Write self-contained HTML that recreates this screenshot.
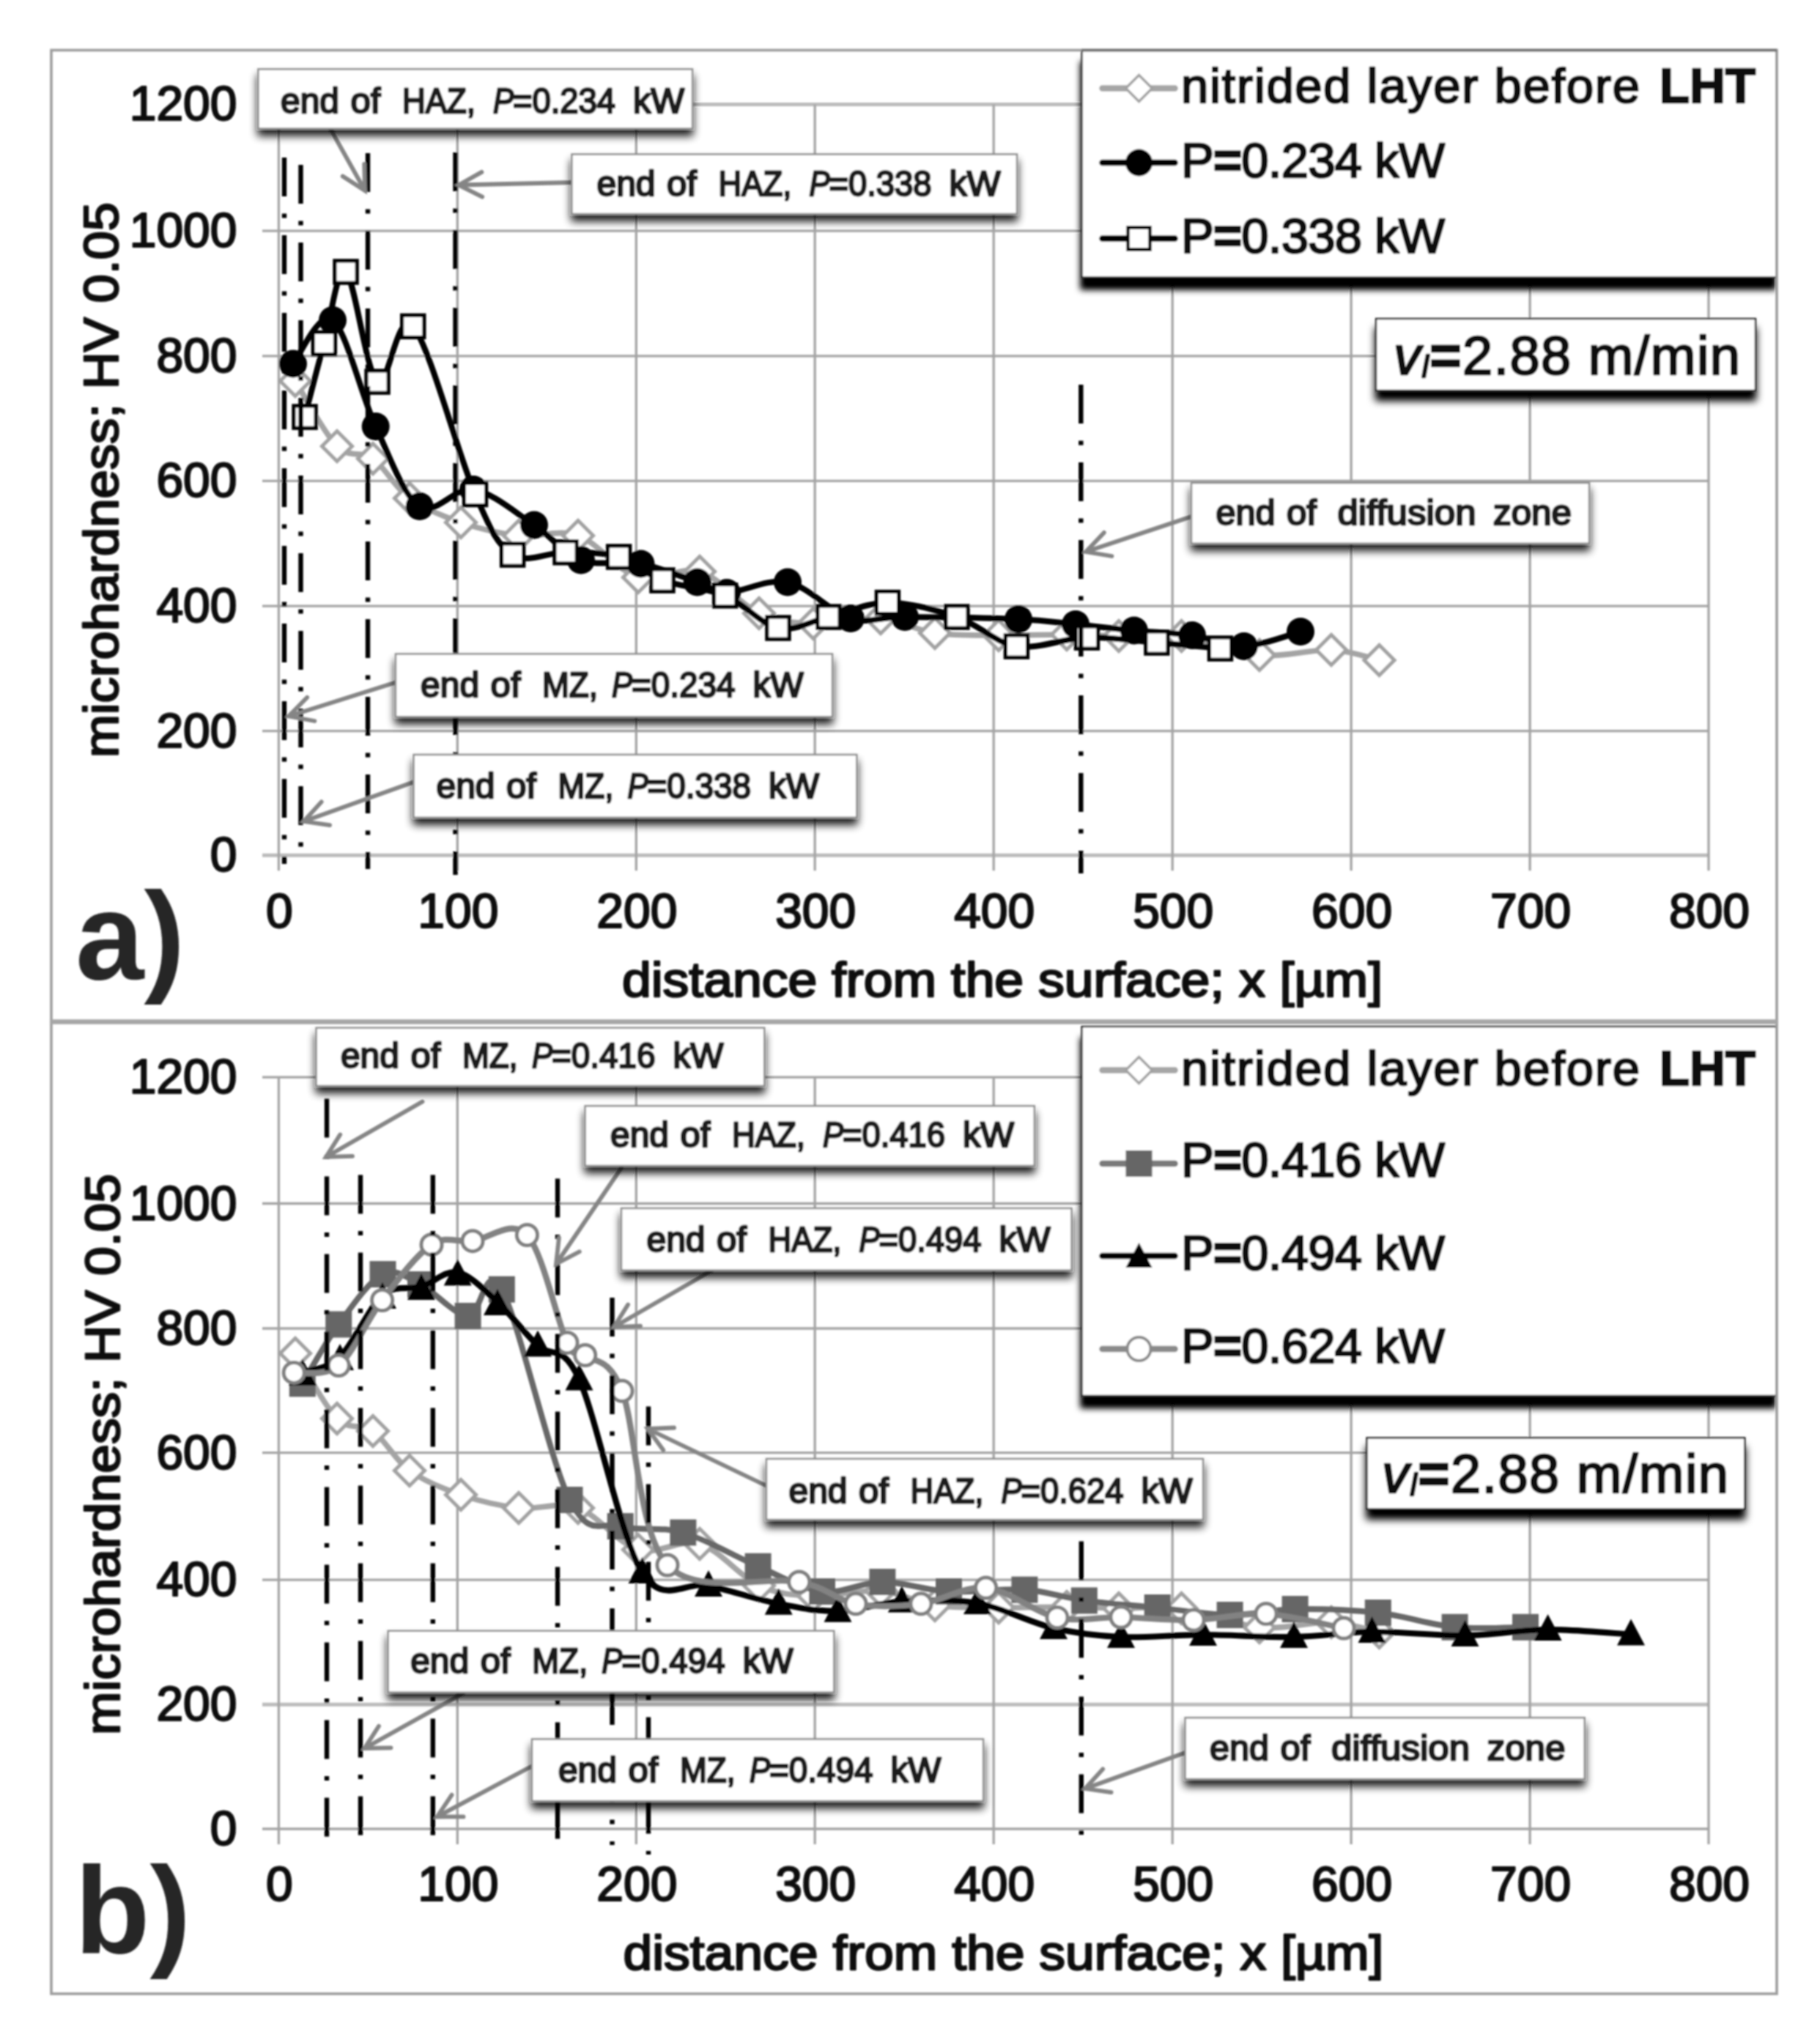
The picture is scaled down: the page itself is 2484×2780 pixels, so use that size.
<!DOCTYPE html>
<html lang="en"><head><meta charset="utf-8"><title>Microhardness profiles</title>
<style>
html,body{margin:0;padding:0;background:#fff;}
body{width:2484px;height:2780px;overflow:hidden;}
svg{display:block;}
text{font-family:"Liberation Sans", sans-serif;fill:#0a0a0a;stroke:#0a0a0a;stroke-width:2.2;stroke-linejoin:round;}
.tk{font-size:66px;}
.ax{font-size:66px;stroke-width:2.4;}
.lg{font-size:67px;stroke-width:2.7;}
.co{fill:#1c1c1c;stroke:#1c1c1c;stroke-width:3;}
.vl{font-size:74px;stroke-width:2.7;}
.pl{font-size:168px;font-weight:bold;fill:#262626;stroke:none;}
</style></head><body>
<svg width="2484" height="2780" viewBox="0 0 2484 2780">
<defs>
<filter id="sh" x="-10%" y="-30%" width="120%" height="180%">
<feGaussianBlur in="SourceAlpha" stdDeviation="6"/><feOffset dx="0" dy="9" result="o"/>
<feComponentTransfer><feFuncA type="linear" slope="0.9"/></feComponentTransfer>
<feMerge><feMergeNode/><feMergeNode in="SourceGraphic"/></feMerge>
</filter>
<filter id="shk" x="-10%" y="-30%" width="120%" height="180%">
<feGaussianBlur in="SourceAlpha" stdDeviation="4"/><feOffset dx="-1.2" dy="15.5" result="o"/>
<feComponentTransfer><feFuncA type="linear" slope="1.05"/></feComponentTransfer>
<feMerge><feMergeNode/><feMergeNode in="SourceGraphic"/></feMerge>
</filter>
<filter id="shv" x="-10%" y="-30%" width="120%" height="190%">
<feGaussianBlur in="SourceAlpha" stdDeviation="5.5"/><feOffset dx="-0.5" dy="13" result="o"/>
<feComponentTransfer><feFuncA type="linear" slope="1.05"/></feComponentTransfer>
<feMerge><feMergeNode/><feMergeNode in="SourceGraphic"/></feMerge>
</filter>
<clipPath id="cpf"><rect x="70" y="68" width="2355" height="2653"/></clipPath>
<filter id="soft"><feGaussianBlur stdDeviation="0.9"/></filter>
</defs>
<rect width="2484" height="2780" fill="#fff"/>
<g filter="url(#soft)">

<line x1="358" y1="1167.3" x2="2332" y2="1167.3" stroke="#bcbcbc" stroke-width="5"/>
<line x1="358" y1="997.6" x2="2332" y2="997.6" stroke="#a4a4a4" stroke-width="3.3"/>
<line x1="358" y1="827.2" x2="2332" y2="827.2" stroke="#a4a4a4" stroke-width="3.3"/>
<line x1="358" y1="656.4" x2="2332" y2="656.4" stroke="#a4a4a4" stroke-width="3.3"/>
<line x1="358" y1="485.8" x2="2332" y2="485.8" stroke="#a4a4a4" stroke-width="3.3"/>
<line x1="358" y1="315.2" x2="2332" y2="315.2" stroke="#a4a4a4" stroke-width="3.3"/>
<line x1="358" y1="142.4" x2="2332" y2="142.4" stroke="#bcbcbc" stroke-width="5"/>
<line x1="380.4" y1="142.4" x2="380.4" y2="1188.3" stroke="#a4a4a4" stroke-width="3.3"/>
<line x1="624.3" y1="142.4" x2="624.3" y2="1188.3" stroke="#a4a4a4" stroke-width="3.3"/>
<line x1="868.3" y1="142.4" x2="868.3" y2="1188.3" stroke="#a4a4a4" stroke-width="3.3"/>
<line x1="1112.2" y1="142.4" x2="1112.2" y2="1188.3" stroke="#a4a4a4" stroke-width="3.3"/>
<line x1="1356.2" y1="142.4" x2="1356.2" y2="1188.3" stroke="#a4a4a4" stroke-width="3.3"/>
<line x1="1600.2" y1="142.4" x2="1600.2" y2="1188.3" stroke="#a4a4a4" stroke-width="3.3"/>
<line x1="1844.1" y1="142.4" x2="1844.1" y2="1188.3" stroke="#a4a4a4" stroke-width="3.3"/>
<line x1="2088.1" y1="142.4" x2="2088.1" y2="1188.3" stroke="#a4a4a4" stroke-width="3.3"/>
<line x1="2332" y1="142.4" x2="2332" y2="1188.3" stroke="#a4a4a4" stroke-width="3.3"/>
<text x="323.5" y="1189.3" text-anchor="end" class="tk">0</text>
<text x="323.5" y="1019.6" text-anchor="end" class="tk">200</text>
<text x="323.5" y="849.2" text-anchor="end" class="tk">400</text>
<text x="323.5" y="678.4" text-anchor="end" class="tk">600</text>
<text x="323.5" y="507.8" text-anchor="end" class="tk">800</text>
<text x="323.5" y="337.2" text-anchor="end" class="tk">1000</text>
<text x="323.5" y="164.4" text-anchor="end" class="tk">1200</text>
<text x="381.4" y="1266" text-anchor="middle" class="tk">0</text>
<text x="625.3" y="1266" text-anchor="middle" class="tk">100</text>
<text x="869.3" y="1266" text-anchor="middle" class="tk">200</text>
<text x="1113.2" y="1266" text-anchor="middle" class="tk">300</text>
<text x="1357.2" y="1266" text-anchor="middle" class="tk">400</text>
<text x="1601.2" y="1266" text-anchor="middle" class="tk">500</text>
<text x="1845.1" y="1266" text-anchor="middle" class="tk">600</text>
<text x="2089.1" y="1266" text-anchor="middle" class="tk">700</text>
<text x="2333" y="1266" text-anchor="middle" class="tk">800</text>
<path d="M403 520 C412.5 534.8 442.3 591.3 460 609 C477.7 626.7 492.5 614.2 509 626 C525.5 637.8 539 665.5 559 680 C579 694.5 604.2 704.5 629 713 C653.8 721.5 681.3 728 708 731 C734.7 734 761.8 721.5 789 731 C816.2 740.5 843.3 779.8 871 788 C898.7 796.2 927.5 771.8 955 780 C982.5 788.2 1010.2 825.2 1036 837 C1061.8 848.8 1082.3 849.8 1110 851 C1137.7 852.2 1174.3 841.8 1202 844 C1229.7 846.2 1249.2 860.2 1276 864 C1302.8 867.8 1333 866.7 1363 867 C1393 867.3 1428.7 865.8 1456 866 C1483.3 866.2 1500.9 867.7 1527 868 C1553.1 868.3 1580.5 863.7 1612.5 868 C1644.5 872.3 1684.9 890.8 1719 894 C1753.1 897.2 1789.8 885.8 1817 887 C1844.2 888.2 1871.6 898.7 1882.5 901" fill="none" stroke="#a4a4a4" stroke-width="7.6" stroke-linejoin="round" stroke-linecap="round"/>
<path d="M403 499.5 L423.5 520 L403 540.5 L382.5 520 Z" fill="#fff" stroke="#a2a2a2" stroke-width="5" stroke-linejoin="miter"/>
<path d="M460 588.5 L480.5 609 L460 629.5 L439.5 609 Z" fill="#fff" stroke="#a2a2a2" stroke-width="5" stroke-linejoin="miter"/>
<path d="M509 605.5 L529.5 626 L509 646.5 L488.5 626 Z" fill="#fff" stroke="#a2a2a2" stroke-width="5" stroke-linejoin="miter"/>
<path d="M559 659.5 L579.5 680 L559 700.5 L538.5 680 Z" fill="#fff" stroke="#a2a2a2" stroke-width="5" stroke-linejoin="miter"/>
<path d="M629 692.5 L649.5 713 L629 733.5 L608.5 713 Z" fill="#fff" stroke="#a2a2a2" stroke-width="5" stroke-linejoin="miter"/>
<path d="M708 710.5 L728.5 731 L708 751.5 L687.5 731 Z" fill="#fff" stroke="#a2a2a2" stroke-width="5" stroke-linejoin="miter"/>
<path d="M789 710.5 L809.5 731 L789 751.5 L768.5 731 Z" fill="#fff" stroke="#a2a2a2" stroke-width="5" stroke-linejoin="miter"/>
<path d="M871 767.5 L891.5 788 L871 808.5 L850.5 788 Z" fill="#fff" stroke="#a2a2a2" stroke-width="5" stroke-linejoin="miter"/>
<path d="M955 759.5 L975.5 780 L955 800.5 L934.5 780 Z" fill="#fff" stroke="#a2a2a2" stroke-width="5" stroke-linejoin="miter"/>
<path d="M1036 816.5 L1056.5 837 L1036 857.5 L1015.5 837 Z" fill="#fff" stroke="#a2a2a2" stroke-width="5" stroke-linejoin="miter"/>
<path d="M1110 830.5 L1130.5 851 L1110 871.5 L1089.5 851 Z" fill="#fff" stroke="#a2a2a2" stroke-width="5" stroke-linejoin="miter"/>
<path d="M1202 823.5 L1222.5 844 L1202 864.5 L1181.5 844 Z" fill="#fff" stroke="#a2a2a2" stroke-width="5" stroke-linejoin="miter"/>
<path d="M1276 843.5 L1296.5 864 L1276 884.5 L1255.5 864 Z" fill="#fff" stroke="#a2a2a2" stroke-width="5" stroke-linejoin="miter"/>
<path d="M1363 846.5 L1383.5 867 L1363 887.5 L1342.5 867 Z" fill="#fff" stroke="#a2a2a2" stroke-width="5" stroke-linejoin="miter"/>
<path d="M1456 845.5 L1476.5 866 L1456 886.5 L1435.5 866 Z" fill="#fff" stroke="#a2a2a2" stroke-width="5" stroke-linejoin="miter"/>
<path d="M1527 847.5 L1547.5 868 L1527 888.5 L1506.5 868 Z" fill="#fff" stroke="#a2a2a2" stroke-width="5" stroke-linejoin="miter"/>
<path d="M1612.5 847.5 L1633 868 L1612.5 888.5 L1592 868 Z" fill="#fff" stroke="#a2a2a2" stroke-width="5" stroke-linejoin="miter"/>
<path d="M1719 873.5 L1739.5 894 L1719 914.5 L1698.5 894 Z" fill="#fff" stroke="#a2a2a2" stroke-width="5" stroke-linejoin="miter"/>
<path d="M1817 866.5 L1837.5 887 L1817 907.5 L1796.5 887 Z" fill="#fff" stroke="#a2a2a2" stroke-width="5" stroke-linejoin="miter"/>
<path d="M1882.5 880.5 L1903 901 L1882.5 921.5 L1862 901 Z" fill="#fff" stroke="#a2a2a2" stroke-width="5" stroke-linejoin="miter"/>
<path d="M400 496.5 C409 486.6 435.2 422.8 454 437 C472.8 451.2 492.9 539.7 512.7 582 C532.5 624.3 550.5 676.7 572.7 691 C594.9 705.3 620 663.8 646 668 C672 672.2 704.5 700.4 729 716.5 C753.5 732.6 768.8 755.7 793 764.5 C817.2 773.3 848 764.5 874.5 769.5 C901 774.5 932.1 787.9 951.7 794.5 C971.3 801.1 971.5 809 992 809 C1012.5 809 1046.8 788.7 1075 794.5 C1103.2 800.3 1134.3 836.1 1161 844 C1187.7 851.9 1196.8 841.8 1235 842 C1273.2 842.2 1351.2 843.3 1390 845 C1428.8 846.7 1441.7 849.4 1468 852 C1494.3 854.6 1521.3 858 1547.8 860.5 C1574.3 863 1602 863.4 1627 867 C1652 870.6 1673.1 882.8 1697.8 882 C1722.5 881.2 1762.1 865.3 1775 862" fill="none" stroke="#000" stroke-width="8" stroke-linejoin="round" stroke-linecap="round"/>
<circle cx="400" cy="496.5" r="19" fill="#000" stroke="none" stroke-width="0"/>
<circle cx="454" cy="437" r="19" fill="#000" stroke="none" stroke-width="0"/>
<circle cx="512.7" cy="582" r="19" fill="#000" stroke="none" stroke-width="0"/>
<circle cx="572.7" cy="691" r="19" fill="#000" stroke="none" stroke-width="0"/>
<circle cx="646" cy="668" r="19" fill="#000" stroke="none" stroke-width="0"/>
<circle cx="729" cy="716.5" r="19" fill="#000" stroke="none" stroke-width="0"/>
<circle cx="793" cy="764.5" r="19" fill="#000" stroke="none" stroke-width="0"/>
<circle cx="874.5" cy="769.5" r="19" fill="#000" stroke="none" stroke-width="0"/>
<circle cx="951.7" cy="794.5" r="19" fill="#000" stroke="none" stroke-width="0"/>
<circle cx="992" cy="809" r="19" fill="#000" stroke="none" stroke-width="0"/>
<circle cx="1075" cy="794.5" r="19" fill="#000" stroke="none" stroke-width="0"/>
<circle cx="1161" cy="844" r="19" fill="#000" stroke="none" stroke-width="0"/>
<circle cx="1235" cy="842" r="19" fill="#000" stroke="none" stroke-width="0"/>
<circle cx="1390" cy="845" r="19" fill="#000" stroke="none" stroke-width="0"/>
<circle cx="1468" cy="852" r="19" fill="#000" stroke="none" stroke-width="0"/>
<circle cx="1547.8" cy="860.5" r="19" fill="#000" stroke="none" stroke-width="0"/>
<circle cx="1627" cy="867" r="19" fill="#000" stroke="none" stroke-width="0"/>
<circle cx="1697.8" cy="882" r="19" fill="#000" stroke="none" stroke-width="0"/>
<circle cx="1775" cy="862" r="19" fill="#000" stroke="none" stroke-width="0"/>
<path d="M416 569 C420.4 552.2 433.1 501.5 442.4 468.5 C451.7 435.5 459.9 362.2 472 371 C484.1 379.8 499.7 508.6 515 521 C530.3 533.4 541.5 419.8 563.8 445.4 C586 471 625.9 622.6 648.5 674.5 C671.1 726.4 679 743.8 699.6 757 C720.2 770.2 747.8 753.2 772 753.7 C796.2 754.2 822.6 753.6 844.6 760 C866.6 766.4 879.7 783.2 903.9 792 C928.1 800.8 963.2 801.9 989.6 812.7 C1016 823.5 1038.4 852.1 1062 857 C1085.6 861.9 1106.1 847.8 1131 842 C1155.9 836.2 1182.3 822.5 1211.5 822.5 C1240.7 822.5 1276.7 832.1 1306 842 C1335.3 851.9 1357.9 877.3 1387.5 882 C1417.1 886.7 1451.6 870.8 1483.5 870 C1515.4 869.2 1548.7 874.5 1579 877 C1609.3 879.5 1651.1 883.7 1665.5 885" fill="none" stroke="#000" stroke-width="8" stroke-linejoin="round" stroke-linecap="round"/>
<rect x="400.9" y="553.9" width="30.3" height="30.3" fill="#fff" stroke="#000" stroke-width="5.2"/>
<rect x="427.2" y="453.4" width="30.3" height="30.3" fill="#fff" stroke="#000" stroke-width="5.2"/>
<rect x="456.9" y="355.9" width="30.3" height="30.3" fill="#fff" stroke="#000" stroke-width="5.2"/>
<rect x="499.9" y="505.9" width="30.3" height="30.3" fill="#fff" stroke="#000" stroke-width="5.2"/>
<rect x="548.6" y="430.2" width="30.3" height="30.3" fill="#fff" stroke="#000" stroke-width="5.2"/>
<rect x="633.4" y="659.4" width="30.3" height="30.3" fill="#fff" stroke="#000" stroke-width="5.2"/>
<rect x="684.5" y="741.9" width="30.3" height="30.3" fill="#fff" stroke="#000" stroke-width="5.2"/>
<rect x="756.9" y="738.6" width="30.3" height="30.3" fill="#fff" stroke="#000" stroke-width="5.2"/>
<rect x="829.5" y="744.9" width="30.3" height="30.3" fill="#fff" stroke="#000" stroke-width="5.2"/>
<rect x="888.8" y="776.9" width="30.3" height="30.3" fill="#fff" stroke="#000" stroke-width="5.2"/>
<rect x="974.5" y="797.6" width="30.3" height="30.3" fill="#fff" stroke="#000" stroke-width="5.2"/>
<rect x="1046.8" y="841.9" width="30.3" height="30.3" fill="#fff" stroke="#000" stroke-width="5.2"/>
<rect x="1115.8" y="826.9" width="30.3" height="30.3" fill="#fff" stroke="#000" stroke-width="5.2"/>
<rect x="1196.3" y="807.4" width="30.3" height="30.3" fill="#fff" stroke="#000" stroke-width="5.2"/>
<rect x="1290.8" y="826.9" width="30.3" height="30.3" fill="#fff" stroke="#000" stroke-width="5.2"/>
<rect x="1372.3" y="866.9" width="30.3" height="30.3" fill="#fff" stroke="#000" stroke-width="5.2"/>
<rect x="1468.3" y="854.9" width="30.3" height="30.3" fill="#fff" stroke="#000" stroke-width="5.2"/>
<rect x="1563.8" y="861.9" width="30.3" height="30.3" fill="#fff" stroke="#000" stroke-width="5.2"/>
<rect x="1650.3" y="869.9" width="30.3" height="30.3" fill="#fff" stroke="#000" stroke-width="5.2"/>
<line x1="388" y1="215" x2="388" y2="1179" stroke="#000" stroke-width="6.4" stroke-dasharray="53 23.5 6 23.5"/>
<line x1="410.5" y1="225" x2="410.5" y2="1160" stroke="#000" stroke-width="6.4" stroke-dasharray="53 23.5 6 23.5"/>
<line x1="502" y1="209" x2="502" y2="1186" stroke="#000" stroke-width="6.4" stroke-dasharray="53 23.5 6 23.5"/>
<line x1="621.5" y1="208" x2="621.5" y2="1194" stroke="#000" stroke-width="6.4" stroke-dasharray="53 23.5 6 23.5"/>
<line x1="1475.3" y1="525" x2="1475.3" y2="1192" stroke="#000" stroke-width="6.4" stroke-dasharray="53 23.5 6 23.5"/>
<path d="M451 176 L498 260 M497.2 224 L498 260 L467.7 240.5" fill="none" stroke="#858585" stroke-width="5.8" stroke-linecap="round" stroke-linejoin="miter"/>
<path d="M780 249 L626 252.5 M658.2 268.7 L626 252.5 L657.4 234.9" fill="none" stroke="#858585" stroke-width="5.8" stroke-linecap="round" stroke-linejoin="miter"/>
<path d="M539.5 931.5 L394 977.5 M429.4 984 L394 977.5 L419.2 951.8" fill="none" stroke="#858585" stroke-width="5.8" stroke-linecap="round" stroke-linejoin="miter"/>
<path d="M564 1067.5 L414.5 1121 M450.1 1126.2 L414.5 1121 L438.7 1094.4" fill="none" stroke="#858585" stroke-width="5.8" stroke-linecap="round" stroke-linejoin="miter"/>
<path d="M1626 705 L1482 753 M1517.5 759 L1482 753 L1506.8 726.9" fill="none" stroke="#858585" stroke-width="5.8" stroke-linecap="round" stroke-linejoin="miter"/>
<rect x="352.4" y="94.4" width="592.6" height="81.1" fill="#fff" stroke="#8f8f8f" stroke-width="2.5" filter="url(#sh)"/>
<text y="153.5" class="co" font-size="49"><tspan x="383" textLength="80" lengthAdjust="spacingAndGlyphs">end</tspan><tspan x="478.5" textLength="41" lengthAdjust="spacingAndGlyphs">of</tspan><tspan x="549" textLength="100" lengthAdjust="spacingAndGlyphs">HAZ,</tspan><tspan x="673" textLength="28" lengthAdjust="spacingAndGlyphs" font-style="italic">P</tspan><tspan x="700" textLength="140" lengthAdjust="spacingAndGlyphs">=0.234</tspan><tspan x="864" textLength="70" lengthAdjust="spacingAndGlyphs">kW</tspan></text>
<rect x="780.4" y="210.6" width="607.6" height="81.4" fill="#fff" stroke="#8f8f8f" stroke-width="2.5" filter="url(#sh)"/>
<text y="267" class="co" font-size="49"><tspan x="814.5" textLength="80" lengthAdjust="spacingAndGlyphs">end</tspan><tspan x="910" textLength="41" lengthAdjust="spacingAndGlyphs">of</tspan><tspan x="980.5" textLength="100" lengthAdjust="spacingAndGlyphs">HAZ,</tspan><tspan x="1104.5" textLength="28" lengthAdjust="spacingAndGlyphs" font-style="italic">P</tspan><tspan x="1131.5" textLength="140" lengthAdjust="spacingAndGlyphs">=0.338</tspan><tspan x="1295.5" textLength="70" lengthAdjust="spacingAndGlyphs">kW</tspan></text>
<rect x="540" y="892.5" width="596" height="85.7" fill="#fff" stroke="#8f8f8f" stroke-width="2.5" filter="url(#sh)"/>
<text y="951.4" class="co" font-size="49"><tspan x="574.1" textLength="80" lengthAdjust="spacingAndGlyphs">end</tspan><tspan x="669.6" textLength="41" lengthAdjust="spacingAndGlyphs">of</tspan><tspan x="740.1" textLength="76" lengthAdjust="spacingAndGlyphs">MZ,</tspan><tspan x="835.1" textLength="28" lengthAdjust="spacingAndGlyphs" font-style="italic">P</tspan><tspan x="862.1" textLength="141.5" lengthAdjust="spacingAndGlyphs">=0.234</tspan><tspan x="1027.6" textLength="69" lengthAdjust="spacingAndGlyphs">kW</tspan></text>
<rect x="564.6" y="1030" width="604.7" height="85.7" fill="#fff" stroke="#8f8f8f" stroke-width="2.5" filter="url(#sh)"/>
<text y="1089" class="co" font-size="49"><tspan x="595.5" textLength="80" lengthAdjust="spacingAndGlyphs">end</tspan><tspan x="691" textLength="41" lengthAdjust="spacingAndGlyphs">of</tspan><tspan x="761.5" textLength="76" lengthAdjust="spacingAndGlyphs">MZ,</tspan><tspan x="856.5" textLength="28" lengthAdjust="spacingAndGlyphs" font-style="italic">P</tspan><tspan x="883.5" textLength="141.5" lengthAdjust="spacingAndGlyphs">=0.338</tspan><tspan x="1049" textLength="69" lengthAdjust="spacingAndGlyphs">kW</tspan></text>
<rect x="1626" y="659" width="543" height="82.7" fill="#fff" stroke="#8f8f8f" stroke-width="2.5" filter="url(#sh)"/>
<text y="716" class="co" font-size="49"><tspan x="1659.5" textLength="81" lengthAdjust="spacingAndGlyphs">end</tspan><tspan x="1756" textLength="41" lengthAdjust="spacingAndGlyphs">of</tspan><tspan x="1825.5" textLength="189" lengthAdjust="spacingAndGlyphs">diffusion</tspan><tspan x="2038" textLength="107" lengthAdjust="spacingAndGlyphs">zone</tspan></text>
<g clip-path="url(#cpf)"><rect x="1476.5" y="69" width="948" height="309.5" fill="#fff" stroke="#222" stroke-width="2.4" filter="url(#shk)"/></g>
<line x1="1504.5" y1="120.5" x2="1603.5" y2="120.5" stroke="#a6a6a6" stroke-width="8.5" stroke-linecap="round"/>
<path d="M1554.5 102.5 L1572.5 120.5 L1554.5 138.5 L1536.5 120.5 Z" fill="#fff" stroke="#a2a2a2" stroke-width="3.5" stroke-linejoin="miter"/>
<text x="1612" y="139.5" class="lg" textLength="626" lengthAdjust="spacing">nitrided layer before</text>
<text x="2265" y="139.5" class="lg" font-weight="bold" textLength="131" lengthAdjust="spacing">LHT</text>
<line x1="1504.5" y1="222" x2="1603.5" y2="222" stroke="#000" stroke-width="8.5" stroke-linecap="round"/>
<circle cx="1554.5" cy="222" r="18.5" fill="#000" stroke="none" stroke-width="0"/>
<text x="1612" y="241.5" class="lg" textLength="360" lengthAdjust="spacing">P<tspan font-weight="bold">=</tspan>0.234 kW</text>
<line x1="1504.5" y1="325.5" x2="1603.5" y2="325.5" stroke="#000" stroke-width="8.5" stroke-linecap="round"/>
<rect x="1539.5" y="310.5" width="30" height="30" fill="#fff" stroke="#000" stroke-width="4.5"/>
<text x="1612" y="344.5" class="lg" textLength="360" lengthAdjust="spacing">P<tspan font-weight="bold">=</tspan>0.338 kW</text>
<rect x="1878" y="435" width="518" height="98" fill="#fff" stroke="#222" stroke-width="2.4" filter="url(#shv)"/>
<text x="1902" y="510.5" class="vl" textLength="473" lengthAdjust="spacing"><tspan font-style="italic">v</tspan><tspan font-style="italic" font-size="42" dy="4">l</tspan><tspan dy="-4" font-weight="bold">=</tspan>2.88 m/min</text>
<text transform="translate(161 655) rotate(-90)" text-anchor="middle" class="ax" textLength="758" lengthAdjust="spacingAndGlyphs">microhardness; HV 0.05</text>
<text x="849" y="1359.5" class="ax" textLength="1038" lengthAdjust="spacingAndGlyphs">distance from the surface; x [µm]</text>
<text x="103" y="1336" class="pl">a)</text>
<line x1="358" y1="2496" x2="2332" y2="2496" stroke="#a4a4a4" stroke-width="3.3"/>
<line x1="358" y1="2326.2" x2="2332" y2="2326.2" stroke="#bcbcbc" stroke-width="5"/>
<line x1="358" y1="2156.2" x2="2332" y2="2156.2" stroke="#a4a4a4" stroke-width="3.3"/>
<line x1="358" y1="1982.7" x2="2332" y2="1982.7" stroke="#a4a4a4" stroke-width="3.3"/>
<line x1="358" y1="1813" x2="2332" y2="1813" stroke="#a4a4a4" stroke-width="3.3"/>
<line x1="358" y1="1642.5" x2="2332" y2="1642.5" stroke="#a4a4a4" stroke-width="3.3"/>
<line x1="358" y1="1470.2" x2="2332" y2="1470.2" stroke="#a4a4a4" stroke-width="3.3"/>
<line x1="380.4" y1="1470.2" x2="380.4" y2="2517" stroke="#a4a4a4" stroke-width="3.3"/>
<line x1="624.3" y1="1470.2" x2="624.3" y2="2517" stroke="#a4a4a4" stroke-width="3.3"/>
<line x1="868.3" y1="1470.2" x2="868.3" y2="2517" stroke="#a4a4a4" stroke-width="3.3"/>
<line x1="1112.2" y1="1470.2" x2="1112.2" y2="2517" stroke="#a4a4a4" stroke-width="3.3"/>
<line x1="1356.2" y1="1470.2" x2="1356.2" y2="2517" stroke="#a4a4a4" stroke-width="3.3"/>
<line x1="1600.2" y1="1470.2" x2="1600.2" y2="2517" stroke="#a4a4a4" stroke-width="3.3"/>
<line x1="1844.1" y1="1470.2" x2="1844.1" y2="2517" stroke="#a4a4a4" stroke-width="3.3"/>
<line x1="2088.1" y1="1470.2" x2="2088.1" y2="2517" stroke="#a4a4a4" stroke-width="3.3"/>
<line x1="2332" y1="1470.2" x2="2332" y2="2517" stroke="#a4a4a4" stroke-width="3.3"/>
<text x="323.5" y="2518" text-anchor="end" class="tk">0</text>
<text x="323.5" y="2348.2" text-anchor="end" class="tk">200</text>
<text x="323.5" y="2178.2" text-anchor="end" class="tk">400</text>
<text x="323.5" y="2004.7" text-anchor="end" class="tk">600</text>
<text x="323.5" y="1835" text-anchor="end" class="tk">800</text>
<text x="323.5" y="1664.5" text-anchor="end" class="tk">1000</text>
<text x="323.5" y="1492.2" text-anchor="end" class="tk">1200</text>
<text x="381.4" y="2593.5" text-anchor="middle" class="tk">0</text>
<text x="625.3" y="2593.5" text-anchor="middle" class="tk">100</text>
<text x="869.3" y="2593.5" text-anchor="middle" class="tk">200</text>
<text x="1113.2" y="2593.5" text-anchor="middle" class="tk">300</text>
<text x="1357.2" y="2593.5" text-anchor="middle" class="tk">400</text>
<text x="1601.2" y="2593.5" text-anchor="middle" class="tk">500</text>
<text x="1845.1" y="2593.5" text-anchor="middle" class="tk">600</text>
<text x="2089.1" y="2593.5" text-anchor="middle" class="tk">700</text>
<text x="2333" y="2593.5" text-anchor="middle" class="tk">800</text>
<path d="M403 1847 C412.5 1861.8 442.3 1918.3 460 1936 C477.7 1953.7 492.5 1941.2 509 1953 C525.5 1964.8 539 1992.5 559 2007 C579 2021.5 604.2 2031.5 629 2040 C653.8 2048.5 681.3 2055 708 2058 C734.7 2061 761.8 2048.5 789 2058 C816.2 2067.5 843.3 2106.8 871 2115 C898.7 2123.2 927.5 2098.8 955 2107 C982.5 2115.2 1010.2 2152.2 1036 2164 C1061.8 2175.8 1082.3 2176.8 1110 2178 C1137.7 2179.2 1174.3 2168.8 1202 2171 C1229.7 2173.2 1249.2 2187.2 1276 2191 C1302.8 2194.8 1333 2193.7 1363 2194 C1393 2194.3 1428.7 2192.8 1456 2193 C1483.3 2193.2 1500.9 2194.7 1527 2195 C1553.1 2195.3 1580.5 2190.7 1612.5 2195 C1644.5 2199.3 1684.9 2217.8 1719 2221 C1753.1 2224.2 1789.8 2212.8 1817 2214 C1844.2 2215.2 1871.6 2225.7 1882.5 2228" fill="none" stroke="#a4a4a4" stroke-width="7.6" stroke-linejoin="round" stroke-linecap="round"/>
<path d="M403 1826.5 L423.5 1847 L403 1867.5 L382.5 1847 Z" fill="#fff" stroke="#a2a2a2" stroke-width="5" stroke-linejoin="miter"/>
<path d="M460 1915.5 L480.5 1936 L460 1956.5 L439.5 1936 Z" fill="#fff" stroke="#a2a2a2" stroke-width="5" stroke-linejoin="miter"/>
<path d="M509 1932.5 L529.5 1953 L509 1973.5 L488.5 1953 Z" fill="#fff" stroke="#a2a2a2" stroke-width="5" stroke-linejoin="miter"/>
<path d="M559 1986.5 L579.5 2007 L559 2027.5 L538.5 2007 Z" fill="#fff" stroke="#a2a2a2" stroke-width="5" stroke-linejoin="miter"/>
<path d="M629 2019.5 L649.5 2040 L629 2060.5 L608.5 2040 Z" fill="#fff" stroke="#a2a2a2" stroke-width="5" stroke-linejoin="miter"/>
<path d="M708 2037.5 L728.5 2058 L708 2078.5 L687.5 2058 Z" fill="#fff" stroke="#a2a2a2" stroke-width="5" stroke-linejoin="miter"/>
<path d="M789 2037.5 L809.5 2058 L789 2078.5 L768.5 2058 Z" fill="#fff" stroke="#a2a2a2" stroke-width="5" stroke-linejoin="miter"/>
<path d="M871 2094.5 L891.5 2115 L871 2135.5 L850.5 2115 Z" fill="#fff" stroke="#a2a2a2" stroke-width="5" stroke-linejoin="miter"/>
<path d="M955 2086.5 L975.5 2107 L955 2127.5 L934.5 2107 Z" fill="#fff" stroke="#a2a2a2" stroke-width="5" stroke-linejoin="miter"/>
<path d="M1036 2143.5 L1056.5 2164 L1036 2184.5 L1015.5 2164 Z" fill="#fff" stroke="#a2a2a2" stroke-width="5" stroke-linejoin="miter"/>
<path d="M1110 2157.5 L1130.5 2178 L1110 2198.5 L1089.5 2178 Z" fill="#fff" stroke="#a2a2a2" stroke-width="5" stroke-linejoin="miter"/>
<path d="M1202 2150.5 L1222.5 2171 L1202 2191.5 L1181.5 2171 Z" fill="#fff" stroke="#a2a2a2" stroke-width="5" stroke-linejoin="miter"/>
<path d="M1276 2170.5 L1296.5 2191 L1276 2211.5 L1255.5 2191 Z" fill="#fff" stroke="#a2a2a2" stroke-width="5" stroke-linejoin="miter"/>
<path d="M1363 2173.5 L1383.5 2194 L1363 2214.5 L1342.5 2194 Z" fill="#fff" stroke="#a2a2a2" stroke-width="5" stroke-linejoin="miter"/>
<path d="M1456 2172.5 L1476.5 2193 L1456 2213.5 L1435.5 2193 Z" fill="#fff" stroke="#a2a2a2" stroke-width="5" stroke-linejoin="miter"/>
<path d="M1527 2174.5 L1547.5 2195 L1527 2215.5 L1506.5 2195 Z" fill="#fff" stroke="#a2a2a2" stroke-width="5" stroke-linejoin="miter"/>
<path d="M1612.5 2174.5 L1633 2195 L1612.5 2215.5 L1592 2195 Z" fill="#fff" stroke="#a2a2a2" stroke-width="5" stroke-linejoin="miter"/>
<path d="M1719 2200.5 L1739.5 2221 L1719 2241.5 L1698.5 2221 Z" fill="#fff" stroke="#a2a2a2" stroke-width="5" stroke-linejoin="miter"/>
<path d="M1817 2193.5 L1837.5 2214 L1817 2234.5 L1796.5 2214 Z" fill="#fff" stroke="#a2a2a2" stroke-width="5" stroke-linejoin="miter"/>
<path d="M1882.5 2207.5 L1903 2228 L1882.5 2248.5 L1862 2228 Z" fill="#fff" stroke="#a2a2a2" stroke-width="5" stroke-linejoin="miter"/>
<path d="M412.8 1888.3 C421 1874.8 443.9 1832.4 462.2 1807.5 C480.5 1782.6 503.9 1748.1 522.5 1739 C541.1 1729.9 554.6 1743.5 574 1753 C593.4 1762.5 620.1 1794.9 638.6 1796 C657.1 1797.1 661.6 1717.9 684.8 1759.7 C707.9 1801.5 750.5 1993.1 777.5 2047 C804.5 2100.9 820.9 2075.6 846.7 2083 C872.5 2090.4 901.1 2082.5 932.4 2091.6 C963.7 2100.7 1003 2124.3 1034.6 2137.7 C1066.2 2151.1 1093.7 2168.4 1122 2172 C1150.3 2175.6 1175.6 2159 1204.4 2159 C1233.2 2159 1262.7 2170.2 1295 2172 C1327.3 2173.8 1367.6 2167.5 1398.4 2169.6 C1429.2 2171.7 1449.6 2180.3 1479.8 2184.4 C1510 2188.5 1546.6 2190.7 1579.7 2194 C1612.8 2197.3 1647.3 2203.7 1678.6 2204 C1709.9 2204.3 1733.9 2196.5 1767.6 2196 C1801.3 2195.5 1844.5 2196.9 1880.8 2201 C1917.1 2205.1 1952.1 2217.4 1985.6 2220.7 C2019.1 2224 2065.9 2220.7 2082 2220.7" fill="none" stroke="#686868" stroke-width="8" stroke-linejoin="round" stroke-linecap="round"/>
<rect x="394.8" y="1870.3" width="36" height="36" fill="#666" stroke="none" stroke-width="0"/>
<rect x="444.2" y="1789.5" width="36" height="36" fill="#666" stroke="none" stroke-width="0"/>
<rect x="504.5" y="1721" width="36" height="36" fill="#666" stroke="none" stroke-width="0"/>
<rect x="556" y="1735" width="36" height="36" fill="#666" stroke="none" stroke-width="0"/>
<rect x="620.6" y="1778" width="36" height="36" fill="#666" stroke="none" stroke-width="0"/>
<rect x="666.8" y="1741.7" width="36" height="36" fill="#666" stroke="none" stroke-width="0"/>
<rect x="759.5" y="2029" width="36" height="36" fill="#666" stroke="none" stroke-width="0"/>
<rect x="828.7" y="2065" width="36" height="36" fill="#666" stroke="none" stroke-width="0"/>
<rect x="914.4" y="2073.6" width="36" height="36" fill="#666" stroke="none" stroke-width="0"/>
<rect x="1016.6" y="2119.7" width="36" height="36" fill="#666" stroke="none" stroke-width="0"/>
<rect x="1104" y="2154" width="36" height="36" fill="#666" stroke="none" stroke-width="0"/>
<rect x="1186.4" y="2141" width="36" height="36" fill="#666" stroke="none" stroke-width="0"/>
<rect x="1277" y="2154" width="36" height="36" fill="#666" stroke="none" stroke-width="0"/>
<rect x="1380.4" y="2151.6" width="36" height="36" fill="#666" stroke="none" stroke-width="0"/>
<rect x="1461.8" y="2166.4" width="36" height="36" fill="#666" stroke="none" stroke-width="0"/>
<rect x="1561.7" y="2176" width="36" height="36" fill="#666" stroke="none" stroke-width="0"/>
<rect x="1660.6" y="2186" width="36" height="36" fill="#666" stroke="none" stroke-width="0"/>
<rect x="1749.6" y="2178" width="36" height="36" fill="#666" stroke="none" stroke-width="0"/>
<rect x="1862.8" y="2183" width="36" height="36" fill="#666" stroke="none" stroke-width="0"/>
<rect x="1967.6" y="2202.7" width="36" height="36" fill="#666" stroke="none" stroke-width="0"/>
<rect x="2064" y="2202.7" width="36" height="36" fill="#666" stroke="none" stroke-width="0"/>
<path d="M413 1873 C421.5 1869.5 445.8 1869.5 464 1852 C482.2 1834.5 503.5 1784 522 1768 C540.5 1752 557.9 1761.2 575 1756 C592.1 1750.8 607.4 1733 624.7 1736.5 C642 1740 660.8 1760.3 679 1777 C697.2 1793.7 715.4 1818.9 734 1836.5 C752.6 1854.1 766.8 1830.9 790.5 1882.5 C814.2 1934.1 847 2099.1 876.4 2146 C905.8 2192.9 936 2156.9 967 2164 C998 2171.1 1033.3 2183 1062.7 2188.8 C1092.1 2194.6 1115.5 2199.2 1143.5 2198.7 C1171.5 2198.1 1199 2187.3 1230.8 2185.5 C1262.5 2183.7 1299.5 2181.9 1334 2188 C1368.5 2194.1 1405.3 2214.3 1438 2222 C1470.7 2229.7 1496 2232.5 1530 2234 C1564 2235.5 1602.7 2231 1642 2231 C1681.3 2231 1727.6 2234.7 1766 2234 C1804.4 2233.3 1833.6 2227.3 1872.5 2227 C1911.4 2226.7 1959.5 2232.5 1999.5 2232 C2039.5 2231.5 2074.8 2224.2 2112.6 2224 C2150.3 2223.8 2207.1 2229.5 2226 2230.6" fill="none" stroke="#000" stroke-width="8.2" stroke-linejoin="round" stroke-linecap="round"/>
<path d="M413 1855 L432 1891 L394 1891 Z" fill="#000"/>
<path d="M464 1834 L483 1870 L445 1870 Z" fill="#000"/>
<path d="M522 1750 L541 1786 L503 1786 Z" fill="#000"/>
<path d="M575 1738 L594 1774 L556 1774 Z" fill="#000"/>
<path d="M624.7 1718.5 L643.7 1754.5 L605.7 1754.5 Z" fill="#000"/>
<path d="M679 1759 L698 1795 L660 1795 Z" fill="#000"/>
<path d="M734 1815.5 L753 1851.5 L715 1851.5 Z" fill="#000"/>
<path d="M790.5 1861.5 L809.5 1897.5 L771.5 1897.5 Z" fill="#000"/>
<path d="M876.4 2125 L895.4 2161 L857.4 2161 Z" fill="#000"/>
<path d="M967 2143 L986 2179 L948 2179 Z" fill="#000"/>
<path d="M1062.7 2167.8 L1081.7 2203.8 L1043.7 2203.8 Z" fill="#000"/>
<path d="M1143.5 2177.7 L1162.5 2213.7 L1124.5 2213.7 Z" fill="#000"/>
<path d="M1230.8 2164.5 L1249.8 2200.5 L1211.8 2200.5 Z" fill="#000"/>
<path d="M1334 2167 L1353 2203 L1315 2203 Z" fill="#000"/>
<path d="M1438 2201 L1457 2237 L1419 2237 Z" fill="#000"/>
<path d="M1530 2213 L1549 2249 L1511 2249 Z" fill="#000"/>
<path d="M1642 2210 L1661 2246 L1623 2246 Z" fill="#000"/>
<path d="M1766 2213 L1785 2249 L1747 2249 Z" fill="#000"/>
<path d="M1872.5 2206 L1891.5 2242 L1853.5 2242 Z" fill="#000"/>
<path d="M1999.5 2211 L2018.5 2247 L1980.5 2247 Z" fill="#000"/>
<path d="M2112.6 2203 L2131.6 2239 L2093.6 2239 Z" fill="#000"/>
<path d="M2226 2209.6 L2245 2245.6 L2207 2245.6 Z" fill="#000"/>
<path d="M401.2 1873.4 C411.4 1871.8 442.1 1880 462.2 1863.5 C482.3 1847 500.5 1802 521.6 1774.5 C542.7 1747 568.4 1712.2 589 1698.7 C609.6 1685.2 623.3 1695.9 645 1693.7 C666.7 1691.5 697.9 1662.4 719.4 1685.5 C740.9 1708.6 760.8 1805.2 774 1832.5 C787.2 1859.8 786.2 1838.5 798.7 1849.5 C811.2 1860.5 830.3 1850.5 849 1898.3 C867.7 1946 870.7 2092.6 911 2136 C951.3 2179.4 1047.9 2150.2 1090.7 2159 C1133.5 2167.8 1140.3 2183.8 1168 2188.8 C1195.7 2193.8 1227.4 2192.4 1257 2188.8 C1286.6 2185.2 1314.6 2163.9 1345.6 2167 C1376.6 2170.1 1412.3 2200.8 1443 2207.5 C1473.7 2214.2 1499 2206.4 1530 2207 C1561 2207.6 1596 2211.8 1629 2211 C1662 2210.2 1693.8 2200.7 1728 2202.5 C1762.2 2204.3 1816.3 2218.8 1834 2222" fill="none" stroke="#828282" stroke-width="8.2" stroke-linejoin="round" stroke-linecap="round"/>
<circle cx="401.2" cy="1873.4" r="14" fill="#fff" stroke="#808080" stroke-width="5"/>
<circle cx="462.2" cy="1863.5" r="14" fill="#fff" stroke="#808080" stroke-width="5"/>
<circle cx="521.6" cy="1774.5" r="14" fill="#fff" stroke="#808080" stroke-width="5"/>
<circle cx="589" cy="1698.7" r="14" fill="#fff" stroke="#808080" stroke-width="5"/>
<circle cx="645" cy="1693.7" r="14" fill="#fff" stroke="#808080" stroke-width="5"/>
<circle cx="719.4" cy="1685.5" r="14" fill="#fff" stroke="#808080" stroke-width="5"/>
<circle cx="774" cy="1832.5" r="14" fill="#fff" stroke="#808080" stroke-width="5"/>
<circle cx="798.7" cy="1849.5" r="14" fill="#fff" stroke="#808080" stroke-width="5"/>
<circle cx="849" cy="1898.3" r="14" fill="#fff" stroke="#808080" stroke-width="5"/>
<circle cx="911" cy="2136" r="14" fill="#fff" stroke="#808080" stroke-width="5"/>
<circle cx="1090.7" cy="2159" r="14" fill="#fff" stroke="#808080" stroke-width="5"/>
<circle cx="1168" cy="2188.8" r="14" fill="#fff" stroke="#808080" stroke-width="5"/>
<circle cx="1257" cy="2188.8" r="14" fill="#fff" stroke="#808080" stroke-width="5"/>
<circle cx="1345.6" cy="2167" r="14" fill="#fff" stroke="#808080" stroke-width="5"/>
<circle cx="1443" cy="2207.5" r="14" fill="#fff" stroke="#808080" stroke-width="5"/>
<circle cx="1530" cy="2207" r="14" fill="#fff" stroke="#808080" stroke-width="5"/>
<circle cx="1629" cy="2211" r="14" fill="#fff" stroke="#808080" stroke-width="5"/>
<circle cx="1728" cy="2202.5" r="14" fill="#fff" stroke="#808080" stroke-width="5"/>
<circle cx="1834" cy="2222" r="14" fill="#fff" stroke="#808080" stroke-width="5"/>
<line x1="446" y1="1499.6" x2="446" y2="2507" stroke="#000" stroke-width="6.4" stroke-dasharray="53 23.5 6 23.5"/>
<line x1="492" y1="1603.5" x2="492" y2="2507" stroke="#000" stroke-width="6.4" stroke-dasharray="53 23.5 6 23.5"/>
<line x1="590.8" y1="1603.5" x2="590.8" y2="2507" stroke="#000" stroke-width="6.4" stroke-dasharray="53 23.5 6 23.5"/>
<line x1="761" y1="1608.5" x2="761" y2="2510" stroke="#000" stroke-width="6.4" stroke-dasharray="53 23.5 6 23.5"/>
<line x1="835.5" y1="1771" x2="835.5" y2="2518" stroke="#000" stroke-width="6.4" stroke-dasharray="53 23.5 6 23.5"/>
<line x1="885" y1="1919.6" x2="885" y2="2531" stroke="#000" stroke-width="6.4" stroke-dasharray="53 23.5 6 23.5"/>
<line x1="1475.8" y1="2103.6" x2="1475.8" y2="2518" stroke="#000" stroke-width="6.4" stroke-dasharray="53 23.5 6 23.5"/>
<path d="M576.5 1503.5 L445 1579 M481 1577.8 L445 1579 L464.2 1548.5" fill="none" stroke="#858585" stroke-width="5.8" stroke-linecap="round" stroke-linejoin="miter"/>
<path d="M848 1594 L759 1725 M790.8 1708.2 L759 1725 L762.9 1689.2" fill="none" stroke="#858585" stroke-width="5.8" stroke-linecap="round" stroke-linejoin="miter"/>
<path d="M971.4 1734 L838 1811 M874 1809.7 L838 1811 L857.1 1780.5" fill="none" stroke="#858585" stroke-width="5.8" stroke-linecap="round" stroke-linejoin="miter"/>
<path d="M1044.5 2027 L884 1950 M905.3 1979 L884 1950 L920 1948.5" fill="none" stroke="#858585" stroke-width="5.8" stroke-linecap="round" stroke-linejoin="miter"/>
<path d="M632 2311 L497.5 2386 M533.5 2385.3 L497.5 2386 L517 2355.8" fill="none" stroke="#858585" stroke-width="5.8" stroke-linecap="round" stroke-linejoin="miter"/>
<path d="M727 2409.7 L596.5 2479.5 M632.5 2479.4 L596.5 2479.5 L616.6 2449.6" fill="none" stroke="#858585" stroke-width="5.8" stroke-linecap="round" stroke-linejoin="miter"/>
<path d="M1617.6 2392 L1481 2441 M1516.6 2446.2 L1481 2441 L1505.2 2414.4" fill="none" stroke="#858585" stroke-width="5.8" stroke-linecap="round" stroke-linejoin="miter"/>
<rect x="431.6" y="1402.8" width="611.6" height="79.2" fill="#fff" stroke="#8f8f8f" stroke-width="2.5" filter="url(#sh)"/>
<text y="1457" class="co" font-size="49"><tspan x="464.9" textLength="80" lengthAdjust="spacingAndGlyphs">end</tspan><tspan x="560.4" textLength="41" lengthAdjust="spacingAndGlyphs">of</tspan><tspan x="630.9" textLength="76" lengthAdjust="spacingAndGlyphs">MZ,</tspan><tspan x="725.9" textLength="28" lengthAdjust="spacingAndGlyphs" font-style="italic">P</tspan><tspan x="752.9" textLength="141.5" lengthAdjust="spacingAndGlyphs">=0.416</tspan><tspan x="918.4" textLength="69" lengthAdjust="spacingAndGlyphs">kW</tspan></text>
<rect x="798.6" y="1509.4" width="613.2" height="81.6" fill="#fff" stroke="#8f8f8f" stroke-width="2.5" filter="url(#sh)"/>
<text y="1565" class="co" font-size="49"><tspan x="833" textLength="80" lengthAdjust="spacingAndGlyphs">end</tspan><tspan x="928.5" textLength="41" lengthAdjust="spacingAndGlyphs">of</tspan><tspan x="999" textLength="100" lengthAdjust="spacingAndGlyphs">HAZ,</tspan><tspan x="1123" textLength="28" lengthAdjust="spacingAndGlyphs" font-style="italic">P</tspan><tspan x="1150" textLength="140" lengthAdjust="spacingAndGlyphs">=0.416</tspan><tspan x="1314" textLength="70" lengthAdjust="spacingAndGlyphs">kW</tspan></text>
<rect x="848" y="1649" width="614.5" height="84.6" fill="#fff" stroke="#8f8f8f" stroke-width="2.5" filter="url(#sh)"/>
<text y="1707.5" class="co" font-size="49"><tspan x="882.5" textLength="80" lengthAdjust="spacingAndGlyphs">end</tspan><tspan x="978" textLength="41" lengthAdjust="spacingAndGlyphs">of</tspan><tspan x="1048.5" textLength="100" lengthAdjust="spacingAndGlyphs">HAZ,</tspan><tspan x="1172.5" textLength="28" lengthAdjust="spacingAndGlyphs" font-style="italic">P</tspan><tspan x="1199.5" textLength="140" lengthAdjust="spacingAndGlyphs">=0.494</tspan><tspan x="1363.5" textLength="70" lengthAdjust="spacingAndGlyphs">kW</tspan></text>
<rect x="1046" y="1991" width="596" height="83" fill="#fff" stroke="#8f8f8f" stroke-width="2.5" filter="url(#sh)"/>
<text y="2051" class="co" font-size="49"><tspan x="1076.5" textLength="80" lengthAdjust="spacingAndGlyphs">end</tspan><tspan x="1172" textLength="41" lengthAdjust="spacingAndGlyphs">of</tspan><tspan x="1242.5" textLength="100" lengthAdjust="spacingAndGlyphs">HAZ,</tspan><tspan x="1366.5" textLength="28" lengthAdjust="spacingAndGlyphs" font-style="italic">P</tspan><tspan x="1393.5" textLength="140" lengthAdjust="spacingAndGlyphs">=0.624</tspan><tspan x="1557.5" textLength="70" lengthAdjust="spacingAndGlyphs">kW</tspan></text>
<rect x="529.7" y="2225.8" width="608.5" height="83.8" fill="#fff" stroke="#8f8f8f" stroke-width="2.5" filter="url(#sh)"/>
<text y="2283.2" class="co" font-size="49"><tspan x="560.2" textLength="80" lengthAdjust="spacingAndGlyphs">end</tspan><tspan x="655.7" textLength="41" lengthAdjust="spacingAndGlyphs">of</tspan><tspan x="726.2" textLength="76" lengthAdjust="spacingAndGlyphs">MZ,</tspan><tspan x="821.2" textLength="28" lengthAdjust="spacingAndGlyphs" font-style="italic">P</tspan><tspan x="848.2" textLength="141.5" lengthAdjust="spacingAndGlyphs">=0.494</tspan><tspan x="1013.7" textLength="69" lengthAdjust="spacingAndGlyphs">kW</tspan></text>
<rect x="726" y="2373.5" width="616" height="84.5" fill="#fff" stroke="#8f8f8f" stroke-width="2.5" filter="url(#sh)"/>
<text y="2431.5" class="co" font-size="49"><tspan x="761.9" textLength="80" lengthAdjust="spacingAndGlyphs">end</tspan><tspan x="857.4" textLength="41" lengthAdjust="spacingAndGlyphs">of</tspan><tspan x="927.9" textLength="76" lengthAdjust="spacingAndGlyphs">MZ,</tspan><tspan x="1022.9" textLength="28" lengthAdjust="spacingAndGlyphs" font-style="italic">P</tspan><tspan x="1049.9" textLength="141.5" lengthAdjust="spacingAndGlyphs">=0.494</tspan><tspan x="1215.4" textLength="69" lengthAdjust="spacingAndGlyphs">kW</tspan></text>
<rect x="1617.6" y="2344.3" width="545.1" height="83.7" fill="#fff" stroke="#8f8f8f" stroke-width="2.5" filter="url(#sh)"/>
<text y="2402" class="co" font-size="49"><tspan x="1651" textLength="81" lengthAdjust="spacingAndGlyphs">end</tspan><tspan x="1747.5" textLength="41" lengthAdjust="spacingAndGlyphs">of</tspan><tspan x="1817" textLength="189" lengthAdjust="spacingAndGlyphs">diffusion</tspan><tspan x="2029.5" textLength="107" lengthAdjust="spacingAndGlyphs">zone</tspan></text>
<g clip-path="url(#cpf)"><rect x="1476.5" y="1401" width="948" height="504" fill="#fff" stroke="#222" stroke-width="2.4" filter="url(#shk)"/></g>
<line x1="1504.5" y1="1460.5" x2="1603.5" y2="1460.5" stroke="#a6a6a6" stroke-width="8.5" stroke-linecap="round"/>
<path d="M1554.5 1442.5 L1572.5 1460.5 L1554.5 1478.5 L1536.5 1460.5 Z" fill="#fff" stroke="#a2a2a2" stroke-width="3.5" stroke-linejoin="miter"/>
<text x="1612" y="1481" class="lg" textLength="626" lengthAdjust="spacing">nitrided layer before</text>
<text x="2265" y="1481" class="lg" font-weight="bold" textLength="131" lengthAdjust="spacing">LHT</text>
<line x1="1504.5" y1="1588" x2="1603.5" y2="1588" stroke="#7a7a7a" stroke-width="8.5" stroke-linecap="round"/>
<rect x="1536.5" y="1570" width="36" height="36" fill="#666" stroke="none" stroke-width="0"/>
<text x="1612" y="1606" class="lg" textLength="360" lengthAdjust="spacing">P<tspan font-weight="bold">=</tspan>0.416 kW</text>
<line x1="1504.5" y1="1714" x2="1603.5" y2="1714" stroke="#000" stroke-width="8.5" stroke-linecap="round"/>
<path d="M1554.5 1696 L1572.5 1730 L1536.5 1730 Z" fill="#000"/>
<text x="1612" y="1732.5" class="lg" textLength="360" lengthAdjust="spacing">P<tspan font-weight="bold">=</tspan>0.494 kW</text>
<line x1="1504.5" y1="1841" x2="1603.5" y2="1841" stroke="#8a8a8a" stroke-width="8.5" stroke-linecap="round"/>
<circle cx="1554.5" cy="1841" r="16" fill="#fff" stroke="#8a8a8a" stroke-width="4"/>
<text x="1612" y="1859.5" class="lg" textLength="360" lengthAdjust="spacing">P<tspan font-weight="bold">=</tspan>0.624 kW</text>
<rect x="1865.5" y="1962.3" width="515.8000000000002" height="97.29999999999995" fill="#fff" stroke="#222" stroke-width="2.4" filter="url(#shv)"/>
<text x="1886" y="2036.5" class="vl" textLength="473" lengthAdjust="spacing"><tspan font-style="italic">v</tspan><tspan font-style="italic" font-size="42" dy="4">l</tspan><tspan dy="-4" font-weight="bold">=</tspan>2.88 m/min</text>
<text transform="translate(162.5 1985) rotate(-90)" text-anchor="middle" class="ax" textLength="766" lengthAdjust="spacingAndGlyphs">microhardness; HV 0.05</text>
<text x="850.4" y="2688" class="ax" textLength="1038" lengthAdjust="spacingAndGlyphs">distance from the surface; x [µm]</text>
<text x="102" y="2666" class="pl">b)</text>
<rect x="70" y="68.5" width="2355" height="2652.5" fill="none" stroke="#9c9c9c" stroke-width="3.6"/>
<line x1="1476" y1="68.5" x2="2425" y2="68.5" stroke="#707070" stroke-width="3.4"/>
<line x1="68" y1="1394.5" x2="2427" y2="1394.5" stroke="#a6a6a6" stroke-width="6.5"/>
</g></svg></body></html>
